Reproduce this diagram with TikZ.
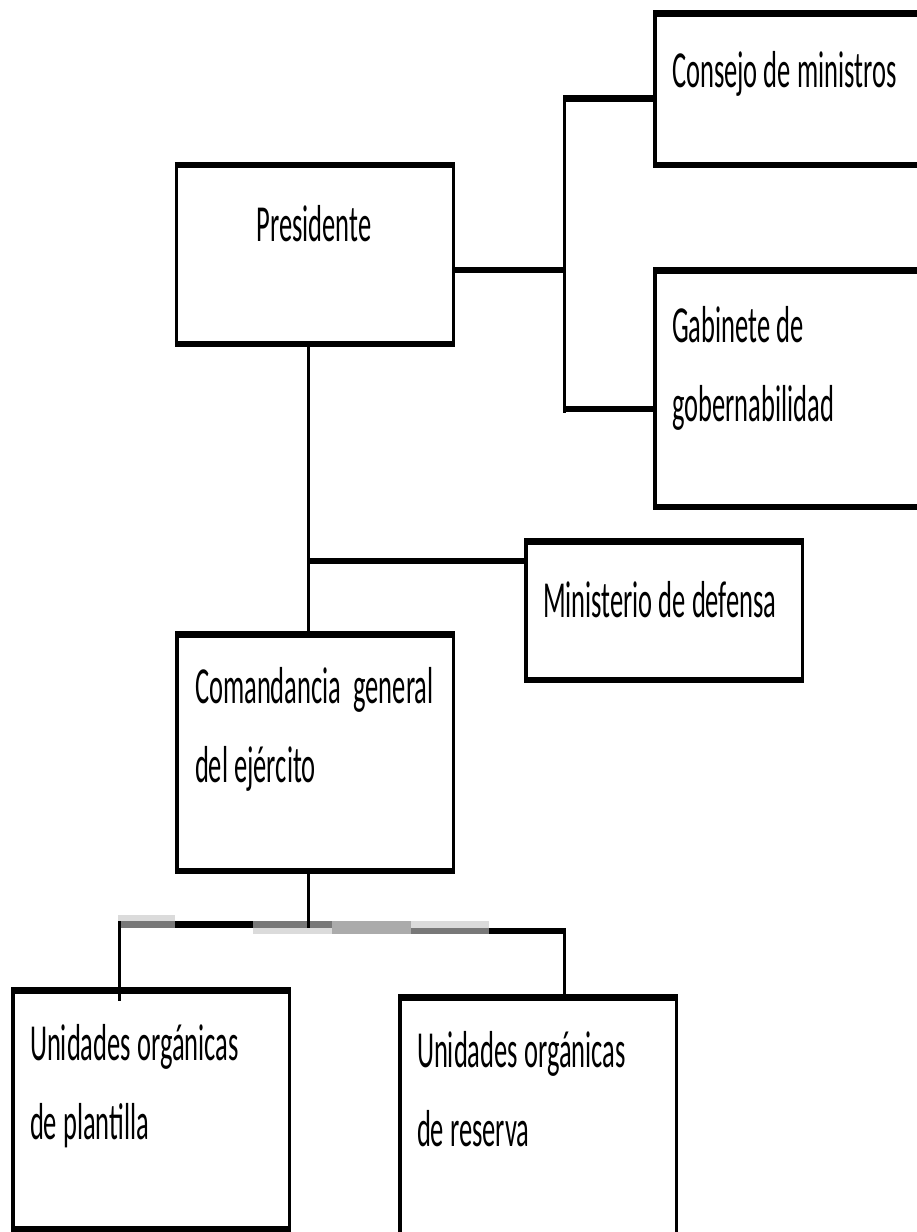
\documentclass[tikz,border=0pt]{standalone}
\usepackage{fontspec}
\setmainfont{Carlito}[FakeStretch=0.51]
\definecolor{buslight}{gray}{0.86}
\definecolor{busmid}{gray}{0.67}
\definecolor{busdark}{gray}{0.47}
\tikzset{
  orgbox/.style={draw, line width=3.5, inner sep=0, outer sep=0, anchor=north west,
    append after command={
      (\tikzlastnode.north west) edge[line width=6.5, shorten <=-1.75, shorten >=-1.75] (\tikzlastnode.north east)
      (\tikzlastnode.south west) edge[line width=6.5, shorten <=-1.75, shorten >=-1.75] (\tikzlastnode.south east)}},
  boxtext/.style={font=\fontsize{52}{79}\selectfont, inner sep=0, outer sep=0, align=left, anchor=north west},
  hline/.style={line width=6.5},
  vline/.style={line width=3}
}

\begin{document}
\begin{tikzpicture}[x=1pt, y=-1pt]
    \useasboundingbox (0,0) rectangle (917,1232);
    \clip (0,0) rectangle (917,1232);

    % boxes
    \node[orgbox, minimum width=277, minimum height=179] (pres) at (176.5,165) {};
    \node[orgbox, minimum width=300, minimum height=151.5] (cons) at (654.75,13.25) {};
    \node[orgbox, minimum width=300, minimum height=236.5] (gab) at (654.75,270.25) {};
    \node[orgbox, minimum width=276.5, minimum height=138.5] (min) at (525.75,541.25) {};
    \node[orgbox, minimum width=276.5, minimum height=236.5] (com) at (176.75,634.25) {};
    \node[orgbox, minimum width=276.5, minimum height=238.5] (plant) at (12.75,990.25) {};
    \node[orgbox, minimum width=276.5, minimum height=260] (res) at (399.75,997.25) {};

    \node[boxtext, anchor=north, align=center] (pres-t) at (314,185.7) {\strut Presidente};
    \node[boxtext] (cons-t) at (672,31.7) {\strut Consejo de ministros};
    \node[boxtext] (gab-t) at (672,286.7) {\strut Gabinete de\\gobernabilidad};
    \node[boxtext] (min-t) at (543,561.7) {\strut Ministerio de defensa};
    \node[boxtext] (com-t) at (195,647.7) {\strut Comandancia~ general\\del ejército};
    \node[boxtext] (plant-t) at (30,1004.7) {\strut Unidades orgánicas\\de plantilla};
    \node[boxtext] (res-t) at (417,1011.7) {\strut Unidades orgánicas\\de reserva};

    % junctions
    \coordinate (j1) at (564.5,270);
    \coordinate (j1a) at (564.5,98.5);
    \coordinate (j1b) at (564.5,409);
    \coordinate (j2) at (308.5,561);
    \coordinate (busC) at (308.5,928);
    \coordinate (busL) at (119.5,921);
    \coordinate (busR) at (564,928);

    % upper links
    \draw[hline] (pres.east |- j1) -- (j1);
    \draw[vline] ([yshift=3.5]j1a) -- ([yshift=-3.5]j1b);
    \draw[hline] ([xshift=-1.5]j1a) -- (j1a -| cons.west);
    \draw[hline] ([xshift=-1.5]j1b) -- (j1b -| gab.west);
    \draw[vline] (pres.south -| j2) -- (com.north -| j2);
    \draw[hline] (j2) -- (j2 -| min.west);

    % lower bus, printed in patches of grey
    \foreach \xa/\xb/\ya/\yb/\c in {118/175/915/921/buslight, 118/175/921/928/busdark,
        175/253/921/928/black, 253/332/921/928/busdark, 253/332/928/934/buslight,
        332/411/921/934/busmid, 411/489/921/928/buslight, 411/489/928/934/busdark,
        489/563/928/934/black}
        \fill[\c] (\xa,\ya) rectangle (\xb,\yb);
    \draw[vline] (com.south -| busC) -- (busC);
    \draw[vline] (busL) -- ([yshift=-11]plant.north -| busL);
    \draw[vline] (busR) -- (res.north -| busR);
\end{tikzpicture}
\end{document}
